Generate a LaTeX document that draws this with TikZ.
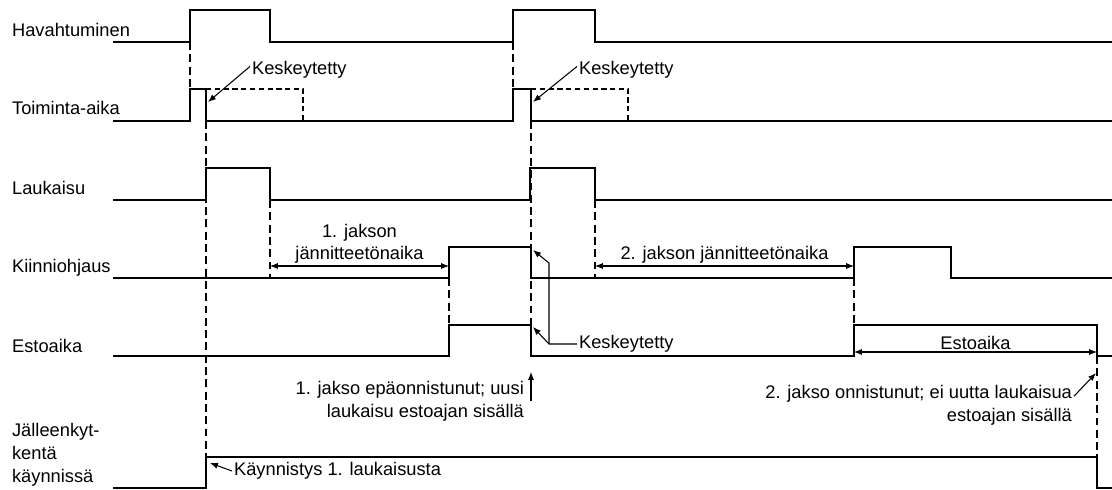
\documentclass[tikz,border=0pt]{standalone}
\usepackage{fontspec}
\setmainfont{Liberation Sans}
\usetikzlibrary{arrows.meta}

\begin{document}
\begin{tikzpicture}[x=0.2mm,y=-0.2mm,
  font=\fontsize{10.4}{13}\selectfont,
  signal/.style={line width=1.5pt},
  guide/.style={line width=0.6pt,dash pattern=on 4.5pt off 2.5pt},
  ghost/.style={line width=1.5pt,dash pattern=on 3pt off 2pt},
  dim/.style={line width=0.6pt,{Latex[length=4.5pt,width=3.5pt]}-{Latex[length=4.5pt,width=3.5pt]}},
  callout/.style={line width=0.6pt,-{Latex[length=4.5pt,width=3.5pt]}},
  lbl/.style={inner sep=1pt}]
  \useasboundingbox (0,0) rectangle (1112,490);

  % signal names
  \node[lbl,anchor=west] (havahtuminen) at (10,30) {Havahtuminen};
  \node[lbl,anchor=west] (toiminta) at (10,108) {Toiminta-aika};
  \node[lbl,anchor=west] (laukaisu) at (10,188) {Laukaisu};
  \node[lbl,anchor=west] (kiinni) at (10,268) {Kiinniohjaus};
  \node[lbl,anchor=west] (esto) at (10,346) {Estoaika};
  \node[lbl,anchor=west,align=left] (jalleen) at (10,455) {Jälleenkyt-\\kentä\\käynnissä};

  % waveforms
  \draw[signal] (113,42) -| (190,10) -| (270,42) -| (513,10) -| (595,42) -- (1112,42);
  \draw[signal] (113,121) -| (190,89) -| (206,121) -| (513,89) -| (531,121) -- (1112,121);
  \draw[ghost] (206,89) -| (303,121);
  \draw[ghost] (531,89) -| (628,121);
  \draw[signal] (113,200) -| (206,168) -| (270,200) -| (530,168) -| (595,200) -- (1112,200);
  \draw[signal] (113,278) -| (449,247) -| (531,278) -| (854,247) -| (951,278) -- (1112,278);
  \draw[signal] (113,356) -| (449,325) -| (531,356) -| (854,325) -| (1097,356) -- (1112,356);
  \draw[signal] (113,488) -| (206,457) -| (1097,488) -- (1112,488);

  % guide lines
  \draw[guide] (190,42) -- (190,89);
  \draw[guide] (206,121) -- (206,457);
  \draw[guide] (270,200) -- (270,278);
  \draw[guide] (449,278) -- (449,325);
  \draw[guide] (513,42) -- (513,89);
  \draw[guide] (531,121) -- (531,325);
  \draw[guide] (595,200) -- (595,278);
  \draw[guide] (854,278) -- (854,325);
  \draw[guide] (1097,356) -- (1097,457);

  % time spans
  \draw[dim] (270,266) -- (449,266)
    node[midway,above,lbl,align=center] {1. jakson\\jännitteetönaika};
  \draw[dim] (595,266) -- (854,266)
    node[midway,above,lbl] {2. jakson jännitteetönaika};
  \draw[dim] (854,352) -- (1097,352)
    node[midway,above,lbl] {Estoaika};

  % callouts
  \coordinate (stop1) at (208,102);
  \coordinate (stop2) at (533,102);
  \coordinate (stop3) at (533,327);
  \coordinate (stop4) at (533,250);
  \coordinate (knee) at (549,344);
  \coordinate (knee2) at (549,263);
  \coordinate (fail) at (531,372);
  \coordinate (done) at (1096,373);
  \coordinate (start) at (210,463);

  \node[lbl,anchor=west] (kesk1) at (250,70) {Keskeytetty};
  \node[lbl,anchor=west] (kesk2) at (577,70) {Keskeytetty};
  \node[lbl,anchor=west] (kesk3) at (577,344) {Keskeytetty};
  \node[lbl,anchor=east,align=right] (note1) at (526,401)
    {1. jakso epäonnistunut; uusi\\laukaisu estoajan sisällä};
  \node[lbl,anchor=east,align=right] (note2) at (1074,405)
    {2. jakso onnistunut; ei uutta laukaisua\\estoajan sisällä};
  \node[lbl,anchor=west] (kayn) at (232,471) {Käynnistys 1. laukaisusta};

  \draw[callout] ([yshift=2pt]kesk1.west) -- (stop1);
  \draw[callout] ([yshift=2pt]kesk2.west) -- (stop2);
  \draw[callout] (kesk3.west) -- (knee) -- (stop3);
  \draw[callout] (knee) -- (knee2) -- (stop4);
  \draw[callout] (fail |- note1.east) -- (fail);
  \draw[callout] ([yshift=5pt]note2.east) -- (done);
  \draw[callout] (kayn.west) -- (start);
\end{tikzpicture}
\end{document}
